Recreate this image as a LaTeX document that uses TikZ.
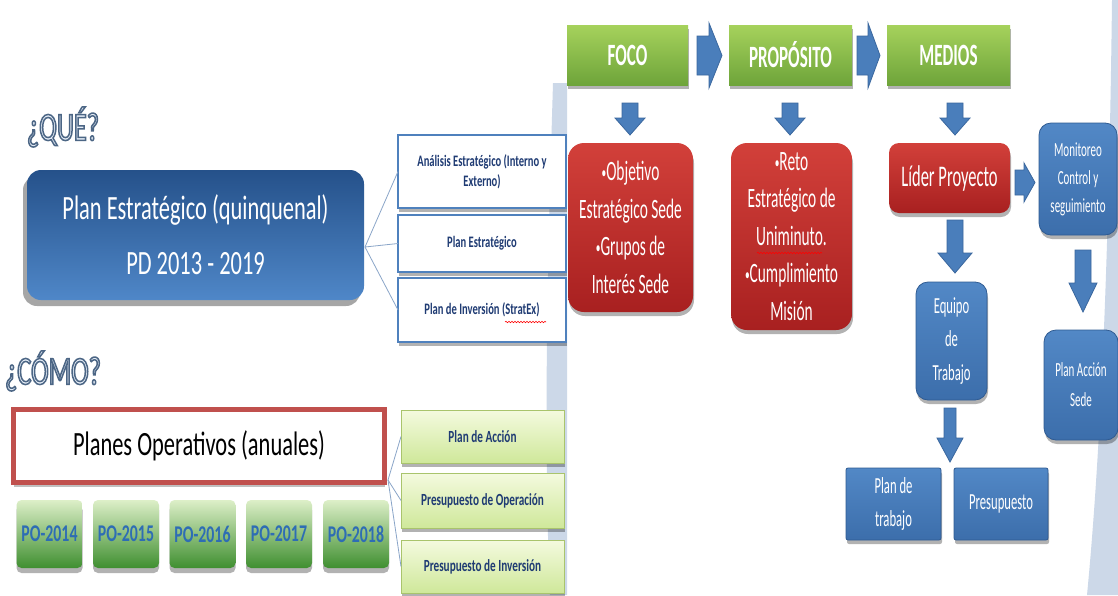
\documentclass[tikz,border=0pt]{standalone}
\usepackage{fontspec}
\setmainfont{Carlito}
\newfontfamily\lf[FakeStretch=0.66]{Carlito}
\newfontfamily\rf[FakeStretch=0.55]{Carlito}
\usetikzlibrary{shadows,decorations.pathmorphing,calc}
\definecolor{navy}{HTML}{1F3B73}
\definecolor{bordblue}{HTML}{4F81BD}
\definecolor{linec}{HTML}{8AA5C8}
\definecolor{bandc}{HTML}{CCD8E8}
\definecolor{qfill}{HTML}{E4ECF6}
\definecolor{potext}{HTML}{2E6DB4}
\definecolor{arrfill}{HTML}{4A7EBB}
\definecolor{arrdraw}{HTML}{3A679E}
\definecolor{redb}{HTML}{C0504D}
\definecolor{HTML-25518A}{HTML}{25518A}\definecolor{HTML-4F87C8}{HTML}{4F87C8}
\definecolor{HTML-F4FADF}{HTML}{F4FADF}\definecolor{HTML-CFE89A}{HTML}{CFE89A}
\definecolor{HTML-A9C46C}{HTML}{A9C46C}\definecolor{HTML-DDEFC8}{HTML}{DDEFC8}
\definecolor{HTML-3F8F30}{HTML}{3F8F30}\definecolor{HTML-A6D25C}{HTML}{A6D25C}
\definecolor{HTML-6EA43A}{HTML}{6EA43A}\definecolor{HTML-D2403A}{HTML}{D2403A}
\definecolor{HTML-A82020}{HTML}{A82020}\definecolor{HTML-5288C6}{HTML}{5288C6}
\definecolor{HTML-3C6EAB}{HTML}{3C6EAB}\definecolor{HTML-2F5B92}{HTML}{2F5B92}
\newcommand\outl[1]{\special{pdf:literal direct 2 Tr 1.5 w 0.30 0.40 0.52 RG}#1\special{pdf:literal direct 0 Tr}}
\newcommand\bul{{\fontsize{17}{17}\selectfont\raisebox{2pt}{•}}}
\newcommand\rarr[6]{\filldraw[arr] (#1,{#4-#5}) -- (#2,{#4-#5}) -- (#2,{#4-#6}) -- (#3,#4) -- (#2,{#4+#6}) -- (#2,{#4+#5}) -- (#1,{#4+#5}) -- cycle;}
\newcommand\darr[6]{\filldraw[arr] ({#1-#5},#2) -- ({#1+#5},#2) -- ({#1+#5},#3) -- ({#1+#6},#3) -- (#1,#4) -- ({#1-#6},#3) -- ({#1-#5},#3) -- cycle;}
\begin{document}
\begin{tikzpicture}[x=1pt,y=-1pt,
  every node/.style={inner sep=0pt,outer sep=0pt},
  sh/.style={drop shadow={shadow xshift=1pt,shadow yshift=-4pt,opacity=.3,fill=black}},
  qtext/.style={font=\lf\fontsize{40}{40}\selectfont,text=qfill},
  bigblue/.style={top color=HTML-25518A,bottom color=HTML-4F87C8,rounded corners=14pt,
     minimum width=337pt,minimum height=130pt,align=center,text=white,
     font=\lf\fontsize{34}{55}\selectfont,
     drop shadow={shadow xshift=-4pt,shadow yshift=-6pt,opacity=.35,fill=black}},
  wbox/.style={draw=bordblue,line width=1.5pt,fill=white,minimum width=168pt,align=center,
     text=navy,font=\lf\bfseries\fontsize{16}{20}\selectfont,sh},
  gbox/.style={top color=HTML-F4FADF,bottom color=HTML-CFE89A,draw=HTML-A9C46C,line width=.8pt,
     minimum width=163pt,align=center,text=navy,font=\lf\bfseries\fontsize{17}{20}\selectfont,sh},
  pobox/.style={top color=HTML-DDEFC8,bottom color=HTML-3F8F30,rounded corners=5pt,
     minimum width=66pt,minimum height=68pt,text=potext,font=\lf\bfseries\fontsize{24}{24}\selectfont,
     drop shadow={shadow xshift=0pt,shadow yshift=-5pt,opacity=.3,fill=black}},
  gtitle/.style={top color=HTML-A6D25C,bottom color=HTML-6EA43A,minimum height=60pt,
     text=white,font=\rf\bfseries\fontsize{31}{31}\selectfont,sh},
  redbox/.style={top color=HTML-D2403A,bottom color=HTML-A82020,rounded corners=16pt,
     align=center,text=white,font=\rf\fontsize{28}{37.5}\selectfont,sh},
  bluebox/.style={top color=HTML-5288C6,bottom color=HTML-3C6EAB,draw=HTML-2F5B92,line width=.8pt,
     rounded corners=12pt,align=center,text=white,sh},
  arr/.style={fill=arrfill,draw=arrdraw,line width=.8pt},
  conn/.style={draw=linec,line width=.8pt},
  squig/.style={draw=red,line width=.6pt,decorate,decoration={snake,amplitude=.7pt,segment length=3pt}}
]
\useasboundingbox (0,0) rectangle (1118,595);
\fill[white] (0,0) rectangle (1118,595);
% background bands
\fill[bandc] (553,83) .. controls (548,250) and (543,430) .. (550,595) -- (567,595) -- (567,83) -- cycle;
\fill[bandc] (1112,0) .. controls (1109,250) and (1101,450) .. (1087,595) -- (1118,595) -- (1118,0) -- cycle;

% ---------- left slide ----------
\node[qtext] (que) at (63,127) {\outl{¿QUÉ?}};
\node[qtext] (como) at (53,371) {\outl{¿CÓMO?}};

\node[bigblue] (pe) at (195.5,235) {Plan Estratégico (quinquenal)\\PD 2013 - 2019};
\node[wbox,minimum height=73pt] (ana) at (482,171.5) {Análisis Estratégico (Interno y\\Externo)};
\node[wbox,minimum height=57pt] (pes) at (482,243.5) {Plan Estratégico};
\node[wbox,minimum height=64pt] (pin) at (482,310) {Plan de Inversión (StratEx)};
\coordinate (pj) at (365,247);
\draw[conn] (pj) -- (ana.west);
\draw[conn] (pj) -- (pes.west);
\draw[conn] (pj) -- (pin.west);
\draw[squig] (505,322) -- (546,322);

\node[draw=redb,line width=5pt,fill=white,minimum width=371pt,minimum height=73pt,
  font=\lf\fontsize{34}{40}\selectfont,
  drop shadow={shadow xshift=0pt,shadow yshift=-4pt,opacity=.25,fill=black}] (po) at (199,446) {Planes Operativos (anuales)};
\node[pobox] (p14) at (49.5,534) {PO-2014};
\node[pobox] (p15) at (126,534) {PO-2015};
\node[pobox] (p16) at (202.5,534) {PO-2016};
\node[pobox] (p17) at (279,534) {PO-2017};
\node[pobox] (p18) at (356,534) {PO-2018};

\node[gbox,minimum height=53pt] (pa) at (482.5,436.5) {Plan de Acción};
\node[gbox,minimum height=55pt] (pop) at (482.5,500.5) {Presupuesto de Operación};
\node[gbox,minimum height=53pt] (pinv) at (482.5,566.5) {Presupuesto de Inversión};
\coordinate (poj) at (388,480);
\draw[conn] (poj) -- (pa.west);
\draw[conn] (poj) -- (pop.west);
\draw[conn] (poj) -- (pinv.west);

% ---------- right slide ----------
\node[gtitle,minimum width=121pt] (foco) at (627.5,55) {FOCO};
\node[gtitle,minimum width=123pt] (prop) at (790.5,55) {PROPÓSITO};
\node[gtitle,minimum width=123pt] (med) at (948.5,55) {MEDIOS};
\rarr{697}{709}{722}{55.5}{19.5}{32.5}
\rarr{857}{868}{880}{55.5}{19.5}{32.5}

\darr{630}{103}{118}{135}{8}{15}
\darr{790}{103}{118}{135}{8}{15}
\darr{955}{103}{118}{135}{8}{15}

\node[redbox,minimum width=125pt,minimum height=169pt] (r1) at (630.5,227.5)
  {\bul Objetivo\\Estratégico Sede\\\bul Grupos de\\Interés Sede};
\node[redbox,minimum width=121pt,minimum height=187pt] (r2) at (791.5,236.5)
  {\bul Reto\\Estratégico de\\Uniminuto.\\\bul Cumplimiento\\Misión};
\draw[squig] (757,253) -- (822,253);
\node[redbox,rounded corners=10pt,minimum width=121pt,minimum height=70pt,
  font=\rf\fontsize{30}{30}\selectfont] (lider) at (949.5,178) {Líder Proyecto};

\rarr{1015}{1024}{1035}{182.5}{12.5}{19.5}
\node[bluebox,minimum width=78pt,minimum height=112pt,font=\rf\fontsize{20}{28}\selectfont] (mon) at (1078,179)
  {Monitoreo\\Control y\\seguimiento};
\darr{955}{220}{253}{273}{8}{17}
\darr{1083}{250}{283}{312}{8}{14}
\node[bluebox,minimum width=71pt,minimum height=118pt,font=\rf\fontsize{23}{33.5}\selectfont] (eq) at (951.5,341)
  {Equipo\\de\\Trabajo};
\node[bluebox,minimum width=74pt,minimum height=110pt,font=\rf\fontsize{20}{30}\selectfont] (pas) at (1081,385)
  {Plan Acción\\Sede};
\darr{950}{408}{438}{462}{6}{13}
\node[bluebox,rounded corners=2pt,minimum width=95pt,minimum height=72pt,font=\rf\fontsize{23}{33}\selectfont] (pt) at (893.5,504)
  {Plan de\\trabajo};
\node[bluebox,rounded corners=2pt,minimum width=94pt,minimum height=72pt,font=\rf\fontsize{23}{33}\selectfont] (pres) at (1001,504)
  {Presupuesto};
\end{tikzpicture}
\end{document}
